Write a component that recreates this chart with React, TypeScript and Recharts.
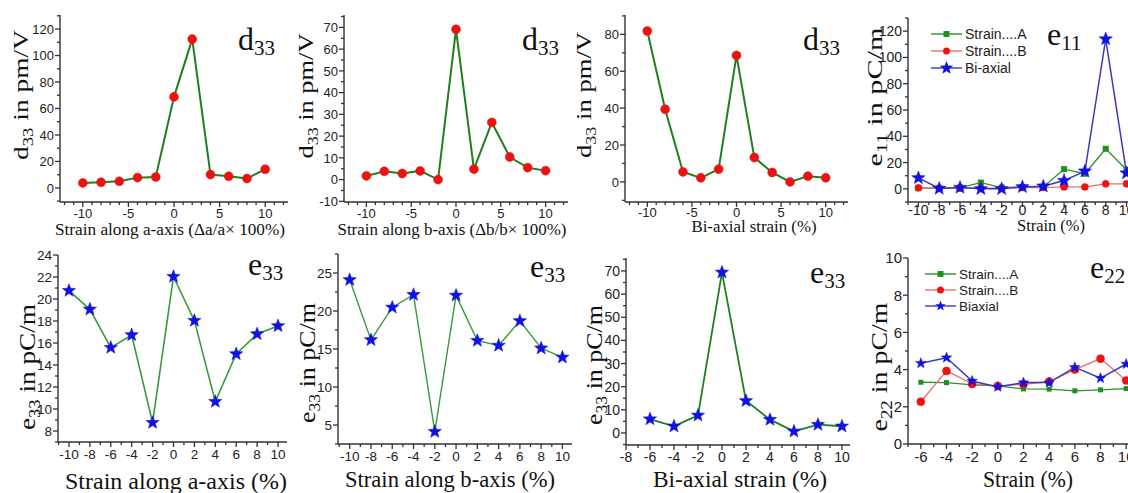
import React from 'react';
import { LineChart, Line, XAxis, YAxis } from 'recharts';

// strain points (%)
const strain = [-10, -8, -6, -4, -2, 0, 2, 4, 6, 8, 10];
const strainBi = [-6, -4, -2, 0, 2, 4, 6, 8, 10];

// d33 (pm/V)
const d33A = [3.8, 4.3, 5.0, 7.8, 8.3, 68.8, 112.4, 10.1, 8.8, 7.1, 14.1];
const d33B = [1.7, 3.8, 2.8, 4.0, 0, 69.1, 4.8, 26.3, 10.4, 5.5, 4.1];
const d33Bi = [81.8, 39.4, 5.4, 2.2, 6.9, 68.6, 13.2, 5.1, 0, 3.1, 2.2];

// e11 (pC/m)
const e11A = [0.5, 0.5, 1.0, 4.8, 1.0, 1.5, 1.5, 15.0, 11.5, 30.5, 14.6];
const e11B = [0.8, 0.5, 0.5, 0.5, 0.5, 1.0, 1.0, 1.5, 1.5, 3.8, 3.8];
const e11Bi = [8.3, 0.3, 1.0, 0, 0, 1.5, 2.0, 6.3, 13.4, 114, 12.0];

// e33 (pC/m)
const e33A = [20.76, 19.06, 15.58, 16.73, 8.76, 22.03, 18.03, 10.67, 15.0, 16.82, 17.55];
const e33B = [24.1, 16.2, 20.47, 22.14, 4.12, 22.05, 16.1, 15.46, 18.7, 15.1, 13.9];
const e33Bi = [6.0, 2.9, 7.6, 69.4, 13.9, 5.75, 0.7, 3.6, 2.9];

// e22 (pC/m)
const e22A = [3.32, 3.3, 3.18, 3.12, 2.96, 2.95, 2.86, 2.91, 2.98];
const e22B = [2.27, 3.93, 3.23, 3.12, 3.21, 3.36, 4.0, 4.59, 3.41];
const e22Bi = [4.34, 4.64, 3.39, 3.07, 3.3, 3.3, 4.12, 3.54, 4.3];

// major tick labels
const xTicks5 = [-10, -5, 0, 5, 10];
const xTicks2 = [-10, -8, -6, -4, -2, 0, 2, 4, 6, 8, 10];
const xTicksBi = [-8, -6, -4, -2, 0, 2, 4, 6, 8, 10];
const xTicksE22 = [-6, -4, -2, 0, 2, 4, 6, 8, 10];
const yTicksD33A = [0, 20, 40, 60, 80, 100, 120];
const yTicksD33B = [-10, 0, 10, 20, 30, 40, 50, 60, 70];
const yTicksD33Bi = [0, 20, 40, 60, 80];
const yTicksE11 = [0, 20, 40, 60, 80, 100, 120];
const yTicksE33A = [8, 10, 12, 14, 16, 18, 20, 22, 24];
const yTicksE33B = [5, 10, 15, 20, 25];
const yTicksE33Bi = [0, 10, 20, 30, 40, 50, 60, 70];
const yTicksE22 = [0, 2, 4, 6, 8, 10];

const SERIF = '"Liberation Serif", "Times New Roman", serif';
const SANS = '"Liberation Sans", Arial, sans-serif';
const AXIS = '#333';
const GREEN = '#1f7f1f';
const GREEN2 = '#3a9a3a';
const RED = '#ee1111';
const BLUE = '#1212e0';

function starPath(cx: number, cy: number, R: number) {
  const r = R * 0.42;
  let d = '';
  for (let i = 0; i < 10; i++) {
    const a = -Math.PI / 2 + (i * Math.PI) / 5;
    const rad = i % 2 === 0 ? R : r;
    d += (i === 0 ? 'M' : 'L') + (cx + rad * Math.cos(a)).toFixed(2) + ',' + (cy + rad * Math.sin(a)).toFixed(2);
  }
  return d + 'Z';
}

const starDot = (R: number, fill: string) => (p: any) =>
  p.cx == null ? <g key={`s-${p.index}`} /> : (
    <path key={`s-${p.index}`} d={starPath(p.cx, p.cy, R)} fill={fill} stroke={fill} strokeWidth={0.5} />
  );

const squareDot = (s: number, fill: string) => (p: any) =>
  p.cx == null ? <g key={`q-${p.index}`} /> : (
    <rect key={`q-${p.index}`} x={p.cx - s / 2} y={p.cy - s / 2} width={s} height={s} fill={fill} />
  );

const circleDot = (r: number, fill: string) => ({ r, fill, stroke: fill, strokeWidth: 0.5 });

function withMinor(major: number[], step: number, dom: number[]) {
  const out = [...major];
  const start = Math.ceil(dom[0] / step - 1e-9) * step;
  for (let v = start; v <= dom[1] + 1e-9; v += step) {
    const vv = Math.round(v * 1000) / 1000;
    if (!out.some((m) => Math.abs(m - vv) < 1e-6)) out.push(vv);
  }
  return out.filter((v) => v >= dom[0] - 1e-9 && v <= dom[1] + 1e-9).sort((a, b) => a - b);
}

const makeTick = (axis: 'x' | 'y', major: number[], fs: number, gap: number) => (props: any) => {
  const { x, y, payload } = props;
  const v = payload.value;
  const isMajor = major.some((m) => Math.abs(m - v) < 1e-6);
  const len = isMajor ? 5 : 3;
  if (axis === 'x') {
    return (
      <g>
        <line x1={x} y1={y} x2={x} y2={y + len} stroke={AXIS} strokeWidth={1.3} />
        {isMajor && (
          <text x={x} y={y + gap} textAnchor="middle" fontSize={fs} fontFamily={SANS} fill="#222">
            {v}
          </text>
        )}
      </g>
    );
  }
  return (
    <g>
      <line x1={x - len} y1={y} x2={x} y2={y} stroke={AXIS} strokeWidth={1.3} />
      {isMajor && (
        <text x={x - 6} y={y + fs * 0.36} textAnchor="end" fontSize={fs} fontFamily={SANS} fill="#222">
          {v}
        </text>
      )}
    </g>
  );
};

type Series = { key: string; values: number[]; stroke: string; width: number; dot: any };
type Cfg = {
  id: string;
  box: { l: number; t: number; r: number; b: number };
  xs: number[];
  xDomain: number[];
  yDomain: number[];
  xMajor: number[];
  yMajor: number[];
  xStep: number;
  yStep: number;
  fs: number;
  gap: number;
  series: Series[];
};

const panels: Cfg[] = [
  {
    id: 'p1', box: { l: 60, t: 15, r: 288, b: 202 }, xs: strain,
    xDomain: [-12.5, 12.5], yDomain: [-10.6, 130.6], xMajor: xTicks5, yMajor: yTicksD33A,
    xStep: 1, yStep: 10, fs: 13, gap: 16,
    series: [{ key: 'a', values: d33A, stroke: GREEN, width: 2, dot: circleDot(4.5, RED) }],
  },
  {
    id: 'p2', box: { l: 344, t: 15, r: 568, b: 202 }, xs: strain,
    xDomain: [-12.5, 12.5], yDomain: [-10.3, 75.7], xMajor: xTicks5, yMajor: yTicksD33B,
    xStep: 1, yStep: 5, fs: 13, gap: 16,
    series: [{ key: 'a', values: d33B, stroke: GREEN, width: 2, dot: circleDot(4.5, RED) }],
  },
  {
    id: 'p3', box: { l: 625, t: 15, r: 848, b: 202 }, xs: strain,
    xDomain: [-12.5, 12.5], yDomain: [-10.9, 90.5], xMajor: xTicks5, yMajor: yTicksD33Bi,
    xStep: 1, yStep: 10, fs: 13, gap: 15,
    series: [{ key: 'a', values: d33Bi, stroke: GREEN, width: 2, dot: circleDot(4.5, RED) }],
  },
  {
    id: 'p4', box: { l: 908, t: 18, r: 1139, b: 202 }, xs: strain,
    xDomain: [-11, 11.2], yDomain: [-10, 130], xMajor: xTicks2, yMajor: yTicksE11,
    xStep: 1, yStep: 10, fs: 14, gap: 13,
    series: [
      { key: 'a', values: e11A, stroke: '#2f8f2f', width: 1.3, dot: squareDot(6, '#1f8f1f') },
      { key: 'b', values: e11B, stroke: '#e87070', width: 1.3, dot: circleDot(3.5, RED) },
      { key: 'c', values: e11Bi, stroke: '#3a3ac0', width: 1.5, dot: starDot(7, BLUE) },
    ],
  },
  {
    id: 'p5', box: { l: 58, t: 255, r: 287, b: 442 }, xs: strain,
    xDomain: [-11.05, 10.86], yDomain: [7, 24], xMajor: xTicks2, yMajor: yTicksE33A,
    xStep: 1, yStep: 1, fs: 13.5, gap: 17,
    series: [{ key: 'a', values: e33A, stroke: GREEN2, width: 1.6, dot: starDot(7, BLUE) }],
  },
  {
    id: 'p6', box: { l: 338, t: 254, r: 572, b: 444 }, xs: strain,
    xDomain: [-11.1, 10.9], yDomain: [2.5, 27.5], xMajor: xTicks2, yMajor: yTicksE33B,
    xStep: 1, yStep: 2.5, fs: 13.5, gap: 17,
    series: [{ key: 'a', values: e33B, stroke: GREEN2, width: 1.4, dot: starDot(7, BLUE) }],
  },
  {
    id: 'p7', box: { l: 626, t: 258, r: 850, b: 445 }, xs: strainBi,
    xDomain: [-8, 10.67], yDomain: [-5.2, 75.6], xMajor: xTicksBi, yMajor: yTicksE33Bi,
    xStep: 1, yStep: 5, fs: 14, gap: 17,
    series: [{ key: 'a', values: e33Bi, stroke: GREEN, width: 1.8, dot: starDot(7, BLUE) }],
  },
  {
    id: 'p8', box: { l: 908, t: 258, r: 1139, b: 444 }, xs: strainBi,
    xDomain: [-7, 11], yDomain: [0, 10], xMajor: xTicksE22, yMajor: yTicksE22,
    xStep: 1, yStep: 1, fs: 15, gap: 18,
    series: [
      { key: 'a', values: e22A, stroke: '#2f8f2f', width: 1.3, dot: squareDot(5, '#1f8f1f') },
      { key: 'b', values: e22B, stroke: '#e87070', width: 1.3, dot: circleDot(4, RED) },
      { key: 'c', values: e22Bi, stroke: '#3a3ac0', width: 1.5, dot: starDot(5.5, BLUE) },
    ],
  },
];

const YW = 50;
const XH = 30;
const MT = 6;
const MR = 6;

function Panel({ cfg }: { cfg: Cfg }) {
  const { box } = cfg;
  const width = box.r - box.l + YW + MR;
  const height = box.b - box.t + MT + XH;
  const data = cfg.xs.map((x, i) => {
    const row: any = { x };
    cfg.series.forEach((s) => (row[s.key] = s.values[i]));
    return row;
  });
  const xTicks = withMinor(cfg.xMajor, cfg.xStep, cfg.xDomain);
  const yTicks = withMinor(cfg.yMajor, cfg.yStep, cfg.yDomain);
  const line = { stroke: AXIS, strokeWidth: 1.4 };
  return (
    <div style={{ position: 'absolute', left: box.l - YW, top: box.t - MT }}>
      <LineChart width={width} height={height} data={data} margin={{ top: MT, right: MR, left: 0, bottom: 0 }}>
        <XAxis
          type="number" dataKey="x" domain={cfg.xDomain} allowDataOverflow ticks={xTicks} interval={0}
          tickSize={0} tickMargin={0} tickLine={false} axisLine={line} height={XH}
          tick={makeTick('x', cfg.xMajor, cfg.fs, cfg.gap)}
        />
        <YAxis
          type="number" domain={cfg.yDomain} allowDataOverflow ticks={yTicks} interval={0}
          tickSize={0} tickMargin={0} tickLine={false} axisLine={line} width={YW}
          tick={makeTick('y', cfg.yMajor, cfg.fs, 0)}
        />
        <XAxis xAxisId="top" orientation="top" type="number" domain={cfg.xDomain} tick={false} tickLine={false} axisLine={line} height={0} />
        <YAxis yAxisId="right" orientation="right" type="number" domain={cfg.yDomain} tick={false} tickLine={false} axisLine={line} width={0} />
        {cfg.series.map((s) => (
          <Line
            key={s.key} type="linear" dataKey={s.key} stroke={s.stroke} strokeWidth={s.width}
            dot={s.dot} activeDot={false} isAnimationActive={false}
          />
        ))}
      </LineChart>
    </div>
  );
}

function YTitle({ x, y, len, fs, main, sub, rest }: any) {
  return (
    <text
      transform={`translate(${x},${y}) rotate(-90)`} textAnchor="middle" fontFamily={SERIF} fontSize={fs}
      fill="#111" textLength={len} lengthAdjust="spacingAndGlyphs"
    >
      {main}
      <tspan fontSize={fs * 0.68} dy={fs * 0.22}>{sub}</tspan>
      <tspan dy={-fs * 0.22}>{rest}</tspan>
    </text>
  );
}

function XTitle({ x, y, len, fs, text }: any) {
  return (
    <text x={x} y={y} textAnchor="middle" fontFamily={SERIF} fontSize={fs} fill="#111" textLength={len} lengthAdjust="spacingAndGlyphs">
      {text}
    </text>
  );
}

function Tag({ x, y, main, sub }: any) {
  return (
    <text x={x} y={y} fontFamily={SERIF} fontSize={32} fill="#111">
      {main}
      <tspan fontSize={21} dy={5}>{sub}</tspan>
    </text>
  );
}

function LegendBox({ x, y, dy, fs, items }: any) {
  return (
    <g>
      {items.map((it: any, i: number) => {
        const cy = y + i * dy;
        const mx = x + 15.5;
        return (
          <g key={it.label}>
            <line x1={x} y1={cy} x2={x + 31} y2={cy} stroke={it.stroke} strokeWidth={1.4} />
            {it.kind === 'sq' && <rect x={mx - 3} y={cy - 3} width={6} height={6} fill={it.fill} />}
            {it.kind === 'ci' && <circle cx={mx} cy={cy} r={3.5} fill={it.fill} />}
            {it.kind === 'st' && <path d={starPath(mx, cy, it.r)} fill={it.fill} />}
            <text x={x + 34} y={cy + fs * 0.36} fontFamily={SANS} fontSize={fs} fill="#222">{it.label}</text>
          </g>
        );
      })}
    </g>
  );
}

export default function App() {
  return (
    <div style={{ position: 'absolute', left: 0, top: 0, width: 1128, height: 493, overflow: 'hidden', background: '#fff' }}>
      {panels.map((p) => (
        <Panel key={p.id} cfg={p} />
      ))}
      <svg width={1128} height={493} style={{ position: 'absolute', left: 0, top: 0, pointerEvents: 'none' }}>
        <YTitle x={28} y={95} len={130} fs={22} main="d" sub="33" rest=" in pm/V" />
        <YTitle x={313} y={96} len={125} fs={22} main="d" sub="33" rest=" in pm/V" />
        <YTitle x={591} y={95} len={126} fs={22} main="d" sub="33" rest=" in pm/V" />
        <YTitle x={882} y={97} len={139} fs={22} main="e" sub="11" rest=" in pC/m" />
        <YTitle x={35} y={367} len={126} fs={24} main="e" sub="33" rest=" in pC/m" />
        <YTitle x={315} y={363} len={120} fs={24} main="e" sub="33" rest=" in pC/m" />
        <YTitle x={602} y={365} len={120} fs={24} main="e" sub="33" rest=" in pC/m" />
        <YTitle x={887} y={367} len={129} fs={24} main="e" sub="22" rest=" in pC/m" />

        <XTitle x={170} y={235} len={230} fs={16} text="Strain along a-axis (Δa/a× 100%)" />
        <XTitle x={452} y={235} len={229} fs={16} text="Strain along b-axis (Δb/b× 100%)" />
        <XTitle x={754} y={232} len={125} fs={16} text="Bi-axial  strain (%)" />
        <XTitle x={1051} y={231} len={68} fs={16} text="Strain (%)" />
        <XTitle x={176} y={489} len={222} fs={24} text="Strain along a-axis (%)" />
        <XTitle x={450} y={487} len={210} fs={24} text="Strain along b-axis (%)" />
        <XTitle x={740} y={487} len={174} fs={24} text="Bi-axial strain (%)" />
        <XTitle x={1028} y={487} len={90} fs={24} text="Strain (%)" />

        <Tag x={238} y={50} main="d" sub="33" />
        <Tag x={522} y={50} main="d" sub="33" />
        <Tag x={803} y={50} main="d" sub="33" />
        <Tag x={1047} y={45} main="e" sub="11" />
        <Tag x={248} y={275} main="e" sub="33" />
        <Tag x={530} y={277} main="e" sub="33" />
        <Tag x={810} y={283} main="e" sub="33" />
        <Tag x={1090} y={278} main="e" sub="22" />

        <LegendBox
          x={931} y={34} dy={17} fs={14}
          items={[
            { label: 'Strain....A', stroke: '#2f8f2f', fill: '#1f8f1f', kind: 'sq' },
            { label: 'Strain....B', stroke: '#e87070', fill: RED, kind: 'ci' },
            { label: 'Bi-axial', stroke: '#3a3ac0', fill: BLUE, kind: 'st', r: 7 },
          ]}
        />
        <LegendBox
          x={925} y={274} dy={16} fs={13.5}
          items={[
            { label: 'Strain....A', stroke: '#2f8f2f', fill: '#1f8f1f', kind: 'sq' },
            { label: 'Strain....B', stroke: '#e87070', fill: RED, kind: 'ci' },
            { label: 'Biaxial', stroke: '#3a3ac0', fill: BLUE, kind: 'st', r: 5.5 },
          ]}
        />
      </svg>
    </div>
  );
}
